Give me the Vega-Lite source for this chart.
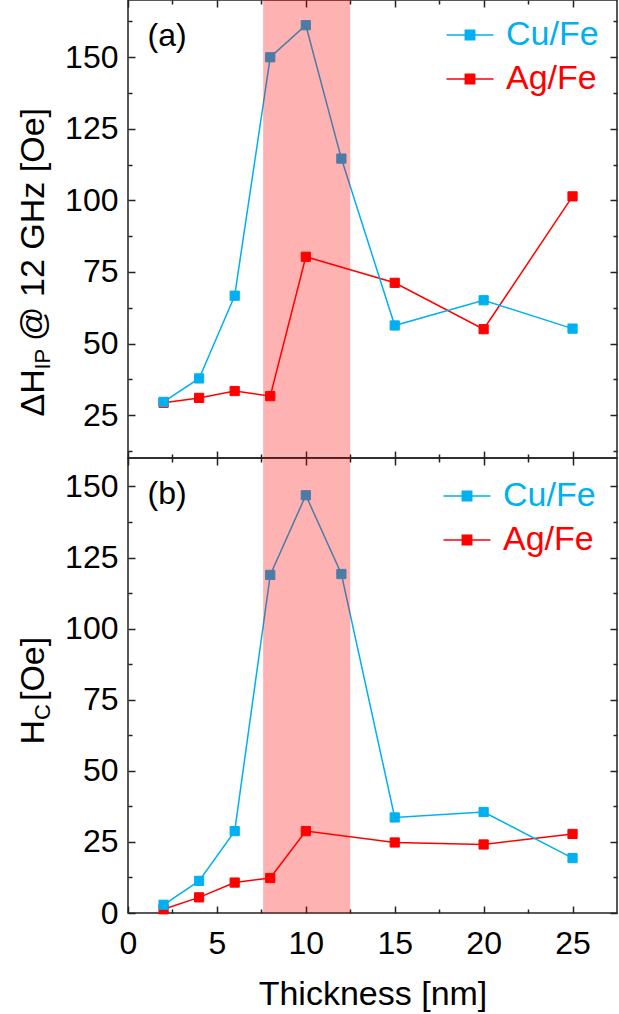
{
  "$schema": "https://vega.github.io/schema/vega-lite/v6.json",
  "padding": {"left": 15, "top": -2, "right": 2, "bottom": 0},
  "config": {
    "font": "Liberation Sans",
    "view": {"stroke": "#222", "strokeWidth": 1.5},
    "axis": {"domain": false, "grid": false, "tickColor": "#222", "tickWidth": 1.5, "labelFontSize": 32, "labelColor": "#000", "titleFontSize": 34, "titleColor": "#000", "titleFontWeight": "normal", "labelFlush": false, "labelOverlap": false},
    "legend": {"orient": "top-right", "title": null, "padding": 0, "symbolType": "M-2.35,0H2.35M-0.47,-0.47H0.47V0.47H-0.47Z", "symbolSize": 400, "symbolStrokeWidth": 1.5, "labelFontSize": 34, "labelOffset": 19, "labelLimit": 0, "rowPadding": 10}
  },
  "datasets": {
    "a": [
      {"series": "Ag/Fe", "thickness": 2, "value": 29.3},
      {"series": "Ag/Fe", "thickness": 4, "value": 31.0},
      {"series": "Ag/Fe", "thickness": 6, "value": 33.4},
      {"series": "Ag/Fe", "thickness": 8, "value": 31.6},
      {"series": "Ag/Fe", "thickness": 10, "value": 80.3},
      {"series": "Ag/Fe", "thickness": 15, "value": 71.2},
      {"series": "Ag/Fe", "thickness": 20, "value": 55.0},
      {"series": "Ag/Fe", "thickness": 25, "value": 101.4},
      {"series": "Cu/Fe", "thickness": 2, "value": 29.6},
      {"series": "Cu/Fe", "thickness": 4, "value": 37.8},
      {"series": "Cu/Fe", "thickness": 6, "value": 66.7},
      {"series": "Cu/Fe", "thickness": 8, "value": 150.0},
      {"series": "Cu/Fe", "thickness": 10, "value": 161.2},
      {"series": "Cu/Fe", "thickness": 12, "value": 114.6},
      {"series": "Cu/Fe", "thickness": 15, "value": 56.3},
      {"series": "Cu/Fe", "thickness": 20, "value": 65.1},
      {"series": "Cu/Fe", "thickness": 25, "value": 55.2}
    ],
    "b": [
      {"series": "Ag/Fe", "thickness": 2, "value": 1.3},
      {"series": "Ag/Fe", "thickness": 4, "value": 5.5},
      {"series": "Ag/Fe", "thickness": 6, "value": 10.7},
      {"series": "Ag/Fe", "thickness": 8, "value": 12.3},
      {"series": "Ag/Fe", "thickness": 10, "value": 28.8},
      {"series": "Ag/Fe", "thickness": 15, "value": 24.8},
      {"series": "Ag/Fe", "thickness": 20, "value": 24.1},
      {"series": "Ag/Fe", "thickness": 25, "value": 27.8},
      {"series": "Cu/Fe", "thickness": 2, "value": 2.9},
      {"series": "Cu/Fe", "thickness": 4, "value": 11.3},
      {"series": "Cu/Fe", "thickness": 6, "value": 28.8},
      {"series": "Cu/Fe", "thickness": 8, "value": 118.9},
      {"series": "Cu/Fe", "thickness": 10, "value": 146.9},
      {"series": "Cu/Fe", "thickness": 12, "value": 119.2},
      {"series": "Cu/Fe", "thickness": 15, "value": 33.6},
      {"series": "Cu/Fe", "thickness": 20, "value": 35.5},
      {"series": "Cu/Fe", "thickness": 25, "value": 19.3}
    ],
    "band": [{"from": 7.6, "to": 12.5}]
  },
  "bounds": "flush",
  "spacing": 0,
  "resolve": {"scale": {"color": "independent", "fill": "independent"}, "legend": {"color": "independent", "fill": "independent"}},
  "vconcat": [
    {
      "width": 489,
      "height": 458,
      "resolve": {"axis": {"x": "independent", "y": "independent"}},
      "layer": [
        {
          "data": {"name": "a"},
          "mark": {"type": "line", "strokeWidth": 1.5},
          "encoding": {
            "x": {"field": "thickness", "type": "quantitative", "scale": {"domain": [0, 27.5], "nice": false, "zero": false},
              "axis": {"orient": "bottom", "values": [0, 2.5, 5, 7.5, 10, 12.5, 15, 17.5, 20, 22.5, 25], "labels": false, "title": null,
                "tickSize": {"condition": {"test": "datum.value % 5 === 0", "value": -7}, "value": -4}}},
            "y": {"field": "value", "type": "quantitative", "scale": {"domain": [10, 170], "nice": false, "zero": false},
              "axis": {"orient": "left", "values": [12.5, 25, 37.5, 50, 62.5, 75, 87.5, 100, 112.5, 125, 137.5, 150, 162.5],
                "labelExpr": "datum.value % 25 === 0 ? datum.label : ''", "labelPadding": 17,
                "labelFontSize": {"condition": {"test": "datum.value % 25 === 0", "value": 32}, "value": 0},
                "tickSize": {"condition": {"test": "datum.value % 25 === 0", "value": -7}, "value": -4},
                "title": "ΔH\u00a0\u00a0\u00a0@ 12 GHz [Oe]", "titleX": -85, "titleY": 416, "titleAngle": 270, "titleAlign": "left", "titleBaseline": "alphabetic"}},
            "color": {"field": "series", "type": "nominal", "scale": {"domain": ["Cu/Fe", "Ag/Fe"], "range": ["#00B0F0", "#FF0000"]},
              "legend": {"offset": 18, "labelColor": {"expr": "datum.value === 'Cu/Fe' ? '#00B0F0' : '#FF0000'"}}}
          }
        },
        {
          "data": {"name": "a"},
          "mark": {"type": "point", "shape": "square", "size": 85, "filled": false, "strokeWidth": 1, "opacity": 1},
          "encoding": {
            "x": {"field": "thickness", "type": "quantitative",
              "axis": {"orient": "top", "values": [0, 2.5, 5, 7.5, 10, 12.5, 15, 17.5, 20, 22.5, 25], "labels": false, "title": null,
                "tickSize": {"condition": {"test": "datum.value % 5 === 0", "value": -7}, "value": -4}}},
            "y": {"field": "value", "type": "quantitative",
              "axis": {"orient": "right", "values": [12.5, 25, 37.5, 50, 62.5, 75, 87.5, 100, 112.5, 125, 137.5, 150, 162.5], "labels": false,
                "tickSize": {"condition": {"test": "datum.value % 25 === 0", "value": -7}, "value": -4},
                "title": "IP", "titleFontSize": 22, "titleX": -568, "titleY": 369, "titleAngle": 270, "titleAlign": "left", "titleBaseline": "alphabetic"}},
            "color": {"field": "series", "type": "nominal", "scale": {"domain": ["Cu/Fe", "Ag/Fe"], "range": ["#00B0F0", "#FF0000"]},
              "legend": {"offset": 18, "labelColor": {"expr": "datum.value === 'Cu/Fe' ? '#00B0F0' : '#FF0000'"}}},
            "fill": {"field": "series", "type": "nominal", "scale": {"domain": ["Cu/Fe", "Ag/Fe"], "range": ["#00B0F0", "#FF0000"]},
              "legend": {"offset": 18, "labelColor": {"expr": "datum.value === 'Cu/Fe' ? '#00B0F0' : '#FF0000'"}}}
          }
        },
        {
          "data": {"name": "band"},
          "mark": {"type": "rect", "color": "#FF0000", "opacity": 0.3},
          "encoding": {
            "x": {"field": "from", "type": "quantitative", "axis": null},
            "x2": {"field": "to"}
          }
        },
        {
          "data": {"values": [{"label": "(a)"}]},
          "mark": {"type": "text", "fontSize": 32, "align": "center", "baseline": "middle", "color": "#000"},
          "encoding": {
            "x": {"datum": 2.2, "type": "quantitative", "axis": null},
            "y": {"datum": 157.5, "type": "quantitative", "axis": null},
            "text": {"field": "label"}
          }
        }
      ]
    },
    {
      "width": 489,
      "height": 455,
      "resolve": {"axis": {"x": "independent", "y": "independent"}},
      "layer": [
        {
          "data": {"name": "b"},
          "mark": {"type": "line", "strokeWidth": 1.5},
          "encoding": {
            "x": {"field": "thickness", "type": "quantitative", "scale": {"domain": [0, 27.5], "nice": false, "zero": false},
              "axis": {"orient": "bottom", "values": [0, 2.5, 5, 7.5, 10, 12.5, 15, 17.5, 20, 22.5, 25],
                "labelExpr": "datum.value % 5 === 0 ? datum.label : ''", "labelPadding": 22,
                "labelFontSize": {"condition": {"test": "datum.value % 5 === 0", "value": 32}, "value": 0},
                "tickSize": {"condition": {"test": "datum.value % 5 === 0", "value": -7}, "value": -4},
                "title": "Thickness [nm]", "titlePadding": 18}},
            "y": {"field": "value", "type": "quantitative", "scale": {"domain": [0, 160], "nice": false, "zero": false},
              "axis": {"orient": "left", "values": [0, 12.5, 25, 37.5, 50, 62.5, 75, 87.5, 100, 112.5, 125, 137.5, 150],
                "labelExpr": "datum.value % 25 === 0 ? datum.label : ''", "labelPadding": 17,
                "labelFontSize": {"condition": {"test": "datum.value % 25 === 0", "value": 32}, "value": 0},
                "tickSize": {"condition": {"test": "datum.value % 25 === 0", "value": -7}, "value": -4},
                "title": "H\u00a0\u00a0[Oe]", "titleX": -85, "titleY": 286, "titleAngle": 270, "titleAlign": "left", "titleBaseline": "alphabetic"}},
            "color": {"field": "series", "type": "nominal", "scale": {"domain": ["Cu/Fe", "Ag/Fe"], "range": ["#00B0F0", "#FF0000"]},
              "legend": {"offset": 21, "labelColor": {"expr": "datum.value === 'Cu/Fe' ? '#00B0F0' : '#FF0000'"}}}
          }
        },
        {
          "data": {"name": "b"},
          "mark": {"type": "point", "shape": "square", "size": 85, "filled": false, "strokeWidth": 1, "opacity": 1},
          "encoding": {
            "x": {"field": "thickness", "type": "quantitative",
              "axis": {"orient": "top", "values": [0, 2.5, 5, 7.5, 10, 12.5, 15, 17.5, 20, 22.5, 25], "labels": false, "title": null,
                "tickSize": {"condition": {"test": "datum.value % 5 === 0", "value": -7}, "value": -4}}},
            "y": {"field": "value", "type": "quantitative",
              "axis": {"orient": "right", "values": [0, 12.5, 25, 37.5, 50, 62.5, 75, 87.5, 100, 112.5, 125, 137.5, 150], "labels": false,
                "tickSize": {"condition": {"test": "datum.value % 25 === 0", "value": -7}, "value": -4},
                "title": "C", "titleFontSize": 22, "titleX": -568, "titleY": 261.5, "titleAngle": 270, "titleAlign": "left", "titleBaseline": "alphabetic"}},
            "color": {"field": "series", "type": "nominal", "scale": {"domain": ["Cu/Fe", "Ag/Fe"], "range": ["#00B0F0", "#FF0000"]},
              "legend": {"offset": 21, "labelColor": {"expr": "datum.value === 'Cu/Fe' ? '#00B0F0' : '#FF0000'"}}},
            "fill": {"field": "series", "type": "nominal", "scale": {"domain": ["Cu/Fe", "Ag/Fe"], "range": ["#00B0F0", "#FF0000"]},
              "legend": {"offset": 21, "labelColor": {"expr": "datum.value === 'Cu/Fe' ? '#00B0F0' : '#FF0000'"}}}
          }
        },
        {
          "data": {"name": "band"},
          "mark": {"type": "rect", "color": "#FF0000", "opacity": 0.3},
          "encoding": {
            "x": {"field": "from", "type": "quantitative", "axis": null},
            "x2": {"field": "to"}
          }
        },
        {
          "data": {"values": [{"label": "(b)"}]},
          "mark": {"type": "text", "fontSize": 32, "align": "center", "baseline": "middle", "color": "#000"},
          "encoding": {
            "x": {"datum": 2.2, "type": "quantitative", "axis": null},
            "y": {"datum": 147.5, "type": "quantitative", "axis": null},
            "text": {"field": "label"}
          }
        }
      ]
    }
  ]
}
